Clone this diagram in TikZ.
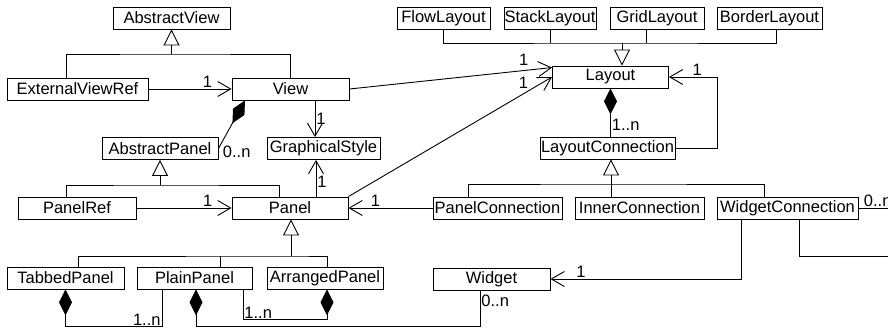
\documentclass[tikz,border=0pt]{standalone}
\usepackage{fontspec}
\setmainfont{Liberation Sans}
\usetikzlibrary{arrows.meta,positioning,calc}

\begin{document}
\begin{tikzpicture}[x=1pt,y=-1pt,line width=0.9pt,
  font=\fontsize{16.5}{19}\selectfont,
  cls/.style={draw,minimum height=22pt,inner sep=0pt},
  gen/.style={-{Triangle[open,length=16pt,width=16pt]}},
  assoc/.style={-{Straight Barb[length=13pt,width=15pt]}},
  comp/.style={{Diamond[length=26pt,width=13pt]}-},
  compend/.style={-{Diamond[length=26pt,width=13pt]}},
  mult/.style={inner sep=1pt}]
\useasboundingbox (0,0) rectangle (888,331);

% classes
\node[cls,minimum width=117pt] (AbstractView) at (171.5,18) {AbstractView};
\node[cls,minimum width=93pt] (FlowLayout) at (443.5,18) {FlowLayout};
\node[cls,minimum width=92pt] (StackLayout) at (550,18) {StackLayout};
\node[cls,minimum width=94pt] (GridLayout) at (657,18) {GridLayout};
\node[cls,minimum width=105pt] (BorderLayout) at (769.5,18) {BorderLayout};
\node[cls,minimum width=141pt] (ExternalViewRef) at (77.5,89) {ExternalViewRef};
\node[cls,minimum width=117pt] (View) at (290.5,89) {View};
\node[cls,minimum width=116pt] (Layout) at (610.5,77) {Layout};
\node[cls,minimum width=116pt] (AbstractPanel) at (160,148.5) {AbstractPanel};
\node[cls,minimum width=113pt] (GraphicalStyle) at (323.5,148.5) {GraphicalStyle};
\node[cls,minimum width=135pt] (LayoutConnection) at (607.5,148) {LayoutConnection};
\node[cls,minimum width=118pt] (PanelRef) at (77,208) {PanelRef};
\node[cls,minimum width=116pt] (Panel) at (290,208) {Panel};
\node[cls,minimum width=129pt] (PanelConnection) at (497.5,208) {PanelConnection};
\node[cls,minimum width=129pt] (InnerConnection) at (639.5,208) {InnerConnection};
\node[cls,minimum width=141pt] (WidgetConnection) at (787.5,208) {WidgetConnection};
\node[cls,minimum width=117pt] (TabbedPanel) at (65.5,278) {TabbedPanel};
\node[cls,minimum width=115pt] (PlainPanel) at (194.5,278) {PlainPanel};
\node[cls,minimum width=116pt] (ArrangedPanel) at (325,278) {ArrangedPanel};
\node[cls,minimum width=117pt] (Widget) at (491.5,279) {Widget};

% bus points of the generalizations
\coordinate (avbus) at (171.5,54);
\coordinate (apbus) at (160,185);
\coordinate (pbus) at (291,256);
\coordinate (lbus) at (622,43);
\coordinate (lcbus) at (611,184);
% free ends at the right border
\coordinate (wcA) at (888,208);
\coordinate (wcB) at (888,256);

% generalizations
\draw[gen] (avbus) -- (AbstractView);
\draw ([xshift=-11.5pt]ExternalViewRef.north) |- (avbus) -| (View.north);
\draw[gen] (apbus) -- (AbstractPanel);
\draw ([xshift=-11pt]PanelRef.north) |- (apbus) -| ([xshift=-11pt]Panel.north);
\draw[gen] (pbus) -- (pbus |- Panel.south);
\draw ([xshift=12.5pt]TabbedPanel.north) |- (pbus) -| ([xshift=2pt]ArrangedPanel.north);
\draw ([xshift=25.5pt]PlainPanel.north) -- ([xshift=25.5pt]PlainPanel.north |- pbus);
\draw[gen] (lbus) -- (lbus |- Layout.north);
\draw (FlowLayout.south) |- (lbus) -| ([xshift=6.5pt]BorderLayout.south);
\draw (StackLayout.south) -- (StackLayout.south |- lbus);
\draw ([xshift=-11pt]GridLayout.south) -- ([xshift=-11pt]GridLayout.south |- lbus);
\draw[gen] (lcbus |- InnerConnection.north) -- (lcbus |- LayoutConnection.south);
\draw ([xshift=-29.5pt]PanelConnection.north) |- (lcbus) -| ([xshift=-23.5pt]WidgetConnection.north);

% associations
\draw[assoc] (ExternalViewRef) -- node[pos=0.71,above,mult]{1} (View);
\draw[assoc] (View.east) -- node[pos=0.86,above=4pt,mult]{1} ([yshift=-2pt]Layout.north west);
\draw[assoc] (Panel.north east) -- node[pos=0.86,above=4pt,mult]{1} (Layout.west);
\draw[assoc] ([xshift=24.5pt]View.south) -- node[right,mult]{1} ([xshift=-8.5pt]GraphicalStyle.north);
\draw[assoc] ([xshift=26pt]Panel.north) -- node[pos=0.4,right,mult]{1} ([xshift=-7.5pt]GraphicalStyle.south);
\draw[assoc] (PanelRef) -- node[pos=0.75,above,mult]{1} (Panel);
\draw[assoc] (PanelConnection) -- node[pos=0.68,above,mult]{1} (Panel);
\draw[assoc] (LayoutConnection.east) -- ++(42,0) |- node[pos=0.71,above,mult]{1} (Layout.east);
\draw[assoc] ([xshift=-46.5pt]WidgetConnection.south) |- node[pos=0.92,above,mult]{1} (Widget.east);
\draw (WidgetConnection.east) node[anchor=south west,xshift=4pt,mult]{0..n} -- (wcA);
\draw ([xshift=11.5pt]WidgetConnection.south) |- (wcB);

% compositions
\draw[comp] ([xshift=-45.5pt]View.south) -- (AbstractPanel.east)
  node[anchor=west,xshift=3pt,yshift=-3pt,mult]{0..n};
\draw[comp] (Layout.south) -- node[near end,right,mult]{1..n} (Layout.south |- LayoutConnection.north);
\draw[comp] (TabbedPanel.south) -- ++(0,37) -| node[pos=0.5,above left,mult]{1..n}
  ([xshift=-32.5pt]PlainPanel.south);
\draw[comp] ([xshift=1.5pt]PlainPanel.south) -- ++(0,37) -| ([xshift=-11.5pt]Widget.south)
  node[anchor=north west,yshift=-3pt,mult]{0..n};
\draw[compend] ([xshift=48.5pt]PlainPanel.south) -- ++(0,30) node[anchor=south west,mult]{1..n}
  -| ([xshift=2pt]ArrangedPanel.south);
\end{tikzpicture}
\end{document}
